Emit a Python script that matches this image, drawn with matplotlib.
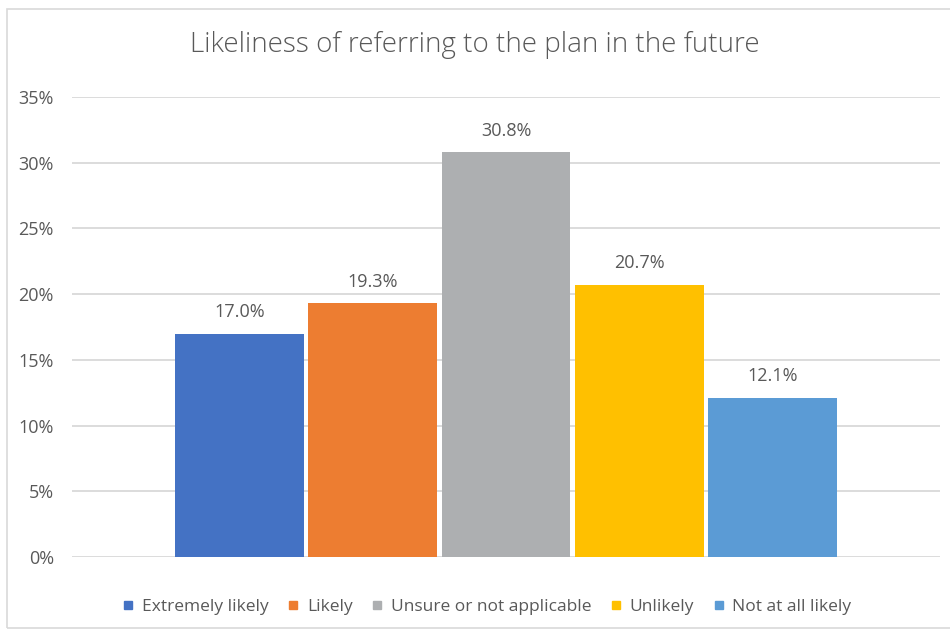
import matplotlib
matplotlib.use("Agg")
import matplotlib.pyplot as plt
from matplotlib.lines import Line2D
from matplotlib.patches import Rectangle
from matplotlib.ticker import FuncFormatter, MultipleLocator

plt.rcParams['font.family'] = ['Open Sans', 'DejaVu Sans']

categories = ["Extremely likely", "Likely", "Unsure or not applicable", "Unlikely", "Not at all likely"]
values = [17.0, 19.3, 30.8, 20.7, 12.1]
colors = ["#4472C4", "#ED7D31", "#ADAFB1", "#FFC000", "#5B9BD5"]
title = "Likeliness of referring to the plan in the future"

text_color = "#595959"
grid_color = "#D9D9D9"

fig = plt.figure(figsize=(9.5, 6.3), dpi=100)
ax = fig.add_axes([72 / 950, 73 / 630, 868 / 950, 460 / 630])

positions = list(range(len(values)))
ax.bar(positions, values, width=0.965, color=colors, zorder=3)

for x, v in zip(positions, values):
    ax.annotate(f"{v:.1f}%", xy=(x, v), xytext=(0, 15.5), textcoords="offset points",
                ha="center", va="center", fontsize=13, color=text_color)

ax.set_xlim(-1.256, len(values) - 1 + 1.256)
ax.set_ylim(0, 35)
ax.yaxis.set_major_locator(MultipleLocator(5))
ax.yaxis.set_major_formatter(FuncFormatter(lambda y, _: f"{y:.0f}%"))
ax.set_xticks([])
ax.grid(axis="y", color=grid_color, linewidth=1.3, zorder=0)
ax.tick_params(axis="y", length=0, pad=13, labelsize=13, labelcolor=text_color)
for s in ax.spines.values():
    s.set_visible(False)

fig.text(0.5, 1 - 45 / 630, title, ha="center", va="center", fontsize=20,
         color=text_color, fontweight="light")

handles = [Line2D([], [], marker="s", linestyle="none", markersize=6,
                  markerfacecolor=c, markeredgecolor=c) for c in colors]
fig.legend(handles, categories, loc="center", bbox_to_anchor=(486.5 / 950, 23 / 630),
           ncol=5, frameon=False, fontsize=12.5, labelcolor=text_color,
           handlelength=0.8, handletextpad=0.4, columnspacing=1.0)

fig.patches.append(Rectangle((7 / 950, 2 / 630), 1.0, 619 / 630, transform=fig.transFigure,
                             fill=False, edgecolor=grid_color, linewidth=1.2))

fig.savefig("out.png", dpi=100)
